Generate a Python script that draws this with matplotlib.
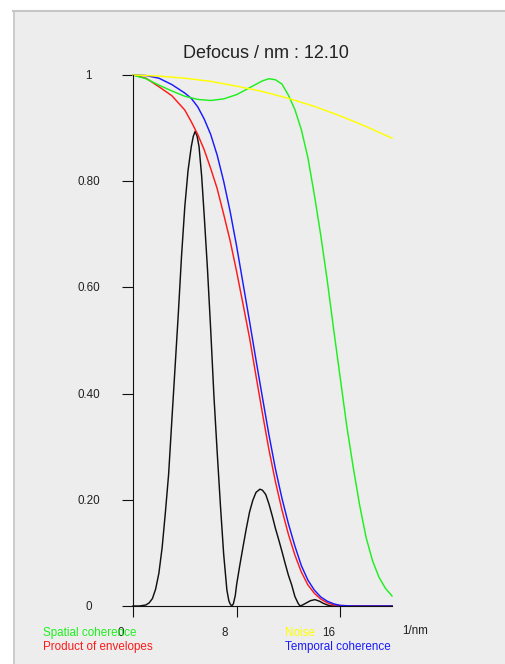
import matplotlib
matplotlib.use("Agg")
import matplotlib.pyplot as plt
from matplotlib.patches import Rectangle
from matplotlib.lines import Line2D

plt.rcParams['font.family'] = ['Liberation Sans', 'DejaVu Sans']

title = "Defocus / nm : 12.10"

# Noise envelope
noise_x = [0, 2, 4, 6, 8, 10, 12, 14, 16, 18, 20]
noise_y = [1.000, 0.998, 0.994, 0.988, 0.979, 0.969, 0.956, 0.941, 0.923, 0.903, 0.881]

# Spatial coherence envelope
spatial_x = [0, 1, 2, 3, 4, 5, 6, 7, 8, 9, 10, 10.5, 11, 11.5, 12, 12.5, 13, 13.5,
             14, 14.5, 15, 15.5, 16, 16.5, 17, 17.5, 18, 18.5, 19, 19.5, 20]
spatial_y = [1.000, 0.993, 0.981, 0.970, 0.960, 0.954, 0.952, 0.955, 0.963, 0.976,
             0.989, 0.993, 0.991, 0.983, 0.962, 0.935, 0.897, 0.845, 0.775, 0.698,
             0.613, 0.520, 0.430, 0.340, 0.262, 0.190, 0.129, 0.085, 0.054, 0.033, 0.019]

# Temporal coherence envelope
temporal_x = [0, 1, 2, 3, 4, 4.5, 5, 5.5, 6, 6.5, 7, 7.5, 8, 8.5, 9, 9.5, 10, 10.5,
              11, 11.5, 12, 12.5, 13, 13.5, 14, 14.5, 15, 15.5, 16, 17, 18, 19, 20]
temporal_y = [1.000, 0.999, 0.994, 0.982, 0.966, 0.956, 0.940, 0.917, 0.888, 0.849,
              0.800, 0.743, 0.678, 0.607, 0.536, 0.463, 0.392, 0.322, 0.258, 0.203,
              0.155, 0.113, 0.076, 0.049, 0.030, 0.017, 0.009, 0.004, 0.001, 0, 0, 0, 0]

# Product of all envelopes
product_x = [0, 1, 2, 3, 4, 4.5, 5, 5.5, 6, 6.5, 7, 7.5, 8, 8.5, 9, 9.5, 10, 10.5,
             11, 11.5, 12, 12.5, 13, 13.5, 14, 14.5, 15, 15.5, 16, 17, 18, 19, 20]
product_y = [1.000, 0.994, 0.978, 0.961, 0.934, 0.912, 0.888, 0.859, 0.824, 0.786,
             0.738, 0.688, 0.630, 0.568, 0.505, 0.433, 0.362, 0.294, 0.234, 0.181,
             0.135, 0.096, 0.064, 0.040, 0.024, 0.013, 0.006, 0.002, 0.001, 0, 0, 0, 0]

# Damped transfer function
ctf_x = [0, 0.5, 1, 1.25, 1.5, 1.75, 2, 2.25, 2.5, 2.75, 3, 3.25, 3.5, 3.75, 4, 4.25,
         4.5, 4.65, 4.8, 4.95, 5.1, 5.3, 5.5, 5.75, 6, 6.25, 6.5, 6.75, 7, 7.25, 7.4,
         7.5, 7.62, 7.75, 7.9, 8, 8.25, 8.5, 8.75, 9, 9.25, 9.5, 9.8, 10, 10.25, 10.5,
         10.75, 11, 11.25, 11.5, 11.75, 12, 12.25, 12.5, 12.75, 12.9, 13.1, 13.4,
         13.7, 14.05, 14.4, 14.7, 15.0, 15.3, 16, 20]
ctf_y = [0, 0, 0.002, 0.006, 0.014, 0.032, 0.062, 0.110, 0.176, 0.248, 0.350, 0.450,
         0.551, 0.660, 0.752, 0.820, 0.865, 0.884, 0.894, 0.885, 0.865, 0.810, 0.735,
         0.635, 0.520, 0.395, 0.290, 0.190, 0.098, 0.030, 0.010, 0.004, 0, 0.004,
         0.020, 0.040, 0.077, 0.112, 0.146, 0.177, 0.199, 0.214, 0.220, 0.218, 0.210,
         0.192, 0.170, 0.146, 0.125, 0.103, 0.080, 0.058, 0.040, 0.018, 0.005, 0,
         0.002, 0.006, 0.010, 0.012, 0.009, 0.005, 0.002, 0, 0, 0]

x_ticks = [0, 8, 16]
x_tick_labels = ["0", "8", "16"]
x_unit = "1/nm"
y_ticks = [0, 0.2, 0.4, 0.6, 0.8, 1.0]
y_tick_labels = ["0", "0.20", "0.40", "0.60", "0.80", "1"]

legend_items = [
    ("Spatial coherence", "#1ef01e", 43, 636.2),
    ("Product of envelopes", "#ff1a1a", 43, 649.7),
    ("Noise", "#ffff00", 285, 636.2),
    ("Temporal coherence", "#1a1aff", 285, 649.7),
]

W, H = 506, 664
fig = plt.figure(figsize=(W / 100, H / 100), dpi=100, facecolor="white")

# grey panel with a light border on top and left
fig.patches.append(Rectangle((13 / W, 0), 1 - 13 / W, (H - 11) / H,
                             transform=fig.transFigure, facecolor="#ededed",
                             edgecolor="none", zorder=-10))
fig.lines.append(Line2D([13 / W, 1], [(H - 11) / H, (H - 11) / H],
                        transform=fig.transFigure, color="#c6c6c6", lw=1.5,
                        zorder=-5))
fig.lines.append(Line2D([13.7 / W, 13.7 / W], [0, (H - 11) / H],
                        transform=fig.transFigure, color="#c6c6c6", lw=1.2,
                        zorder=-5))

ax = fig.add_axes([133 / W, 58 / H, (392 - 133) / W, 531 / H])
ax.set_zorder(1)
ax.set_facecolor("none")
ax.set_xlim(0, 20)
ax.set_ylim(0, 1)
for s in ("top", "right"):
    ax.spines[s].set_visible(False)
for s in ("left", "bottom"):
    ax.spines[s].set_color("#111111")
    ax.spines[s].set_linewidth(0.8)

ax.set_xticks(x_ticks)
ax.set_yticks(y_ticks)
ax.tick_params(direction="out", length=8, width=0.8, color="#111111",
               labelbottom=False, labelleft=False)

lw = 1.05
ax.plot(ctf_x, ctf_y, color="#111111", lw=lw, clip_on=False)
ax.plot(product_x, product_y, color="#ff1a1a", lw=lw, clip_on=False)
ax.plot(temporal_x, temporal_y, color="#1a1aff", lw=lw, clip_on=False)
ax.plot(spatial_x, spatial_y, color="#1ef01e", lw=lw, clip_on=False)
ax.plot(noise_x, noise_y, color="#ffff00", lw=lw, clip_on=False)

fs = 8.4
for v, lab in zip(y_ticks, y_tick_labels):
    ax.annotate(lab, xy=(0, v), xycoords=ax.get_yaxis_transform(),
                xytext=(-44.5, -4), textcoords="offset pixels",
                ha="center", va="baseline", fontsize=fs, color="#222222")
for v, lab in zip(x_ticks, x_tick_labels):
    ax.annotate(lab, xy=(v, 0), xycoords=ax.get_xaxis_transform(),
                xytext=(-12, -30.4), textcoords="offset pixels",
                ha="center", va="baseline", fontsize=fs, color="#222222")
ax.annotate(x_unit, xy=(1, 0), xycoords="axes fraction",
            xytext=(23, -28.5), textcoords="offset pixels",
            ha="center", va="baseline", fontsize=fs, color="#222222")

fig.text(266 / W, 1 - 58.3 / H, title, ha="center", va="baseline",
         fontsize=13, color="#222222")

for text, col, px, py in legend_items:
    fig.text(px / W, 1 - py / H, text, ha="left", va="baseline",
             fontsize=fs, color=col)

fig.savefig("out.png", dpi=100, facecolor="white")
